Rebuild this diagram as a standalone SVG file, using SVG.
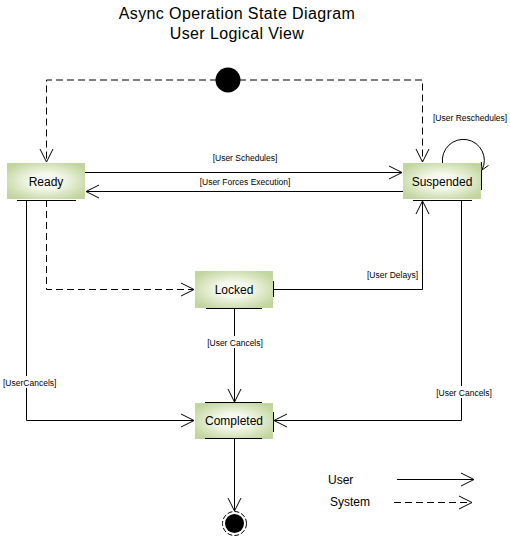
<svg xmlns="http://www.w3.org/2000/svg" width="510" height="536" viewBox="0 0 510 536">
<defs>
<radialGradient id="g" cx="50%" cy="50%" r="60%">
<stop offset="0" stop-color="#ffffff"/>
<stop offset="0.35" stop-color="#f4f8ea"/>
<stop offset="1" stop-color="#c2d59e"/>
</radialGradient>
<marker id="arr" markerWidth="16" markerHeight="16" refX="13" refY="7" orient="auto" markerUnits="userSpaceOnUse" viewBox="0 0 16 14">
<path d="M0,0.5 L13,7 L0,13.5" fill="none" stroke="#000" stroke-width="1"/>
</marker>
<style>
.t{font-family:"Liberation Sans",Arial,sans-serif;fill:#000}
.title{font-size:16px;letter-spacing:0.4px}
.node{font-size:12px}
.lbl{font-size:8.5px}
.box{fill:url(#g);stroke:none}
.e{fill:none;stroke:#000;stroke-width:1}
.d{stroke-dasharray:7,4}
.bg{fill:#fff}
</style>
</defs>
<rect width="510" height="536" fill="#fff"/>
<g id="title">
<text class="t title" x="237" y="19" text-anchor="middle">Async Operation State Diagram</text>
<text class="t title" x="237" y="39" text-anchor="middle">User Logical View</text>
</g>
<g id="connectors">
<path class="e d" d="M228,80 H46.5 V162" marker-end="url(#arr)"/>
<path class="e d" d="M228,80 H422.5 V162" marker-end="url(#arr)"/>
<path class="e" d="M85,172.5 H402" marker-end="url(#arr)"/>
<text class="t lbl" x="245" y="161" text-anchor="middle">[User Schedules]</text>
<path class="e" d="M403,191.5 H86" marker-end="url(#arr)"/>
<text class="t lbl" x="245" y="185" text-anchor="middle">[User Forces Execution]</text>
<path class="e" d="M442.5,163 A21,21 0 1 1 482,170"/>
<path class="e" d="M488.5,165.4 L482,170 L481.3,162"/>
<text class="t lbl" x="433" y="121">[User Reschedules]</text>
<path class="e d" d="M46.5,200 V289.5 H194" marker-end="url(#arr)"/>
<path class="e" d="M26.5,200 V420.5 H194" marker-end="url(#arr)"/>
<rect class="bg" x="2" y="376" width="56" height="12"/>
<text class="t lbl" x="3" y="386">[UserCancels]</text>
<path class="e" d="M273,289.5 H422.5 V201" marker-end="url(#arr)"/>
<text class="t lbl" x="418" y="278" text-anchor="end">[User Delays]</text>
<path class="e" d="M234.5,308 V402" marker-end="url(#arr)"/>
<rect class="bg" x="206" y="336" width="58" height="12"/>
<text class="t lbl" x="235" y="346" text-anchor="middle">[User Cancels]</text>
<path class="e" d="M461.5,200 V420.5 H274" marker-end="url(#arr)"/>
<rect class="bg" x="434" y="386" width="60" height="12"/>
<text class="t lbl" x="464" y="396" text-anchor="middle">[User Cancels]</text>
<path class="e" d="M234.5,439 V511" marker-end="url(#arr)"/>
</g>
<g id="initial">
<circle cx="228" cy="80" r="12.5" fill="#000"/>
</g>
<g id="ready">
<rect class="box" x="7" y="163" width="78" height="36"/>
<line class="e" x1="17" y1="200.5" x2="76" y2="200.5"/>
<text class="t node" x="46" y="185.5" text-anchor="middle">Ready</text>
</g>
<g id="suspended">
<rect class="box" x="403" y="163" width="78" height="36"/>
<line class="e" x1="413" y1="200.5" x2="472" y2="200.5"/>
<line class="e" x1="481.5" y1="170" x2="481.5" y2="190"/>
<text class="t node" x="442" y="185.5" text-anchor="middle">Suspended</text>
</g>
<g id="locked">
<rect class="box" x="195" y="271" width="78" height="37"/>
<line class="e" x1="206" y1="308.5" x2="262" y2="308.5"/>
<line class="e" x1="273.5" y1="281" x2="273.5" y2="297"/>
<text class="t node" x="234" y="293.5" text-anchor="middle">Locked</text>
</g>
<g id="completed">
<rect class="box" x="195" y="403" width="78" height="36"/>
<line class="e" x1="205" y1="402.5" x2="262" y2="402.5"/>
<line class="e" x1="205" y1="438.5" x2="262" y2="438.5"/>
<line class="e" x1="273.5" y1="412" x2="273.5" y2="432"/>
<text class="t node" x="234" y="425" text-anchor="middle">Completed</text>
</g>
<g id="final">
<circle cx="234.5" cy="523.5" r="12" fill="none" stroke="#000" stroke-width="1" stroke-dasharray="5,2"/>
<circle cx="234.5" cy="523.5" r="9.5" fill="#000"/>
</g>
<g id="legend">
<text class="t node" x="328" y="484">User</text>
<path class="e" d="M397,479.5 H474" marker-end="url(#arr)"/>
<text class="t node" x="330" y="506">System</text>
<path class="e d" d="M394,502.5 H472" marker-end="url(#arr)"/>
</g>
</svg>
